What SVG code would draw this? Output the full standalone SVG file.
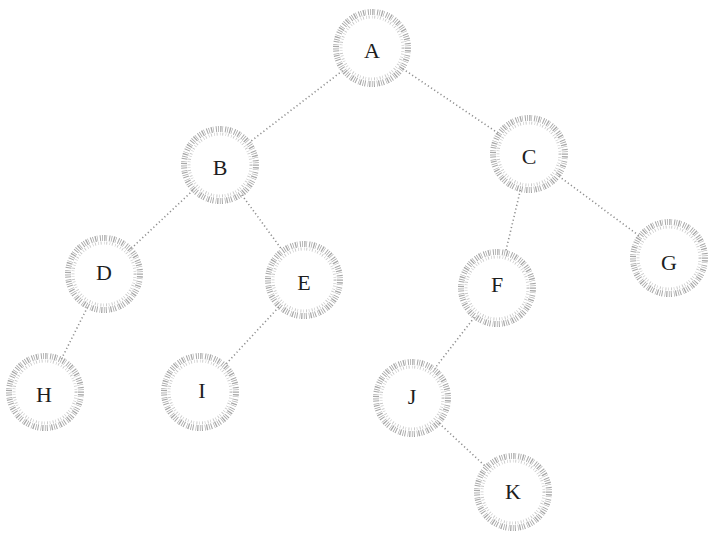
<svg xmlns="http://www.w3.org/2000/svg" width="719" height="548" viewBox="0 0 719 548">
<style>
.ring{fill:none;stroke:#a8a8a8;stroke-width:6;stroke-dasharray:0.8 1.4 1.3 0.9 0.6 2.1 1 1.2}
.ring2{fill:none;stroke:#c8c8c8;stroke-width:3;stroke-dasharray:0.9 2.4 0.6 1.8}
.lbl{font-family:"Liberation Serif","DejaVu Serif",serif;font-size:22px;fill:#1e1e1e;text-anchor:middle;dominant-baseline:central}
.edge{stroke:#8f8f8f;stroke-width:1.6;stroke-dasharray:1.2 2.6;fill:none}
</style>
<rect width="719" height="548" fill="#ffffff"/>
<g id="connectors">
<line class="edge" x1="342.7" y1="70.6" x2="249.3" y2="142.4"/>
<line class="edge" x1="402.7" y1="68.7" x2="498.3" y2="133.3"/>
<line class="edge" x1="193" y1="190.3" x2="131" y2="248.7"/>
<line class="edge" x1="241.8" y1="194.9" x2="282.2" y2="250.1"/>
<line class="edge" x1="520.4" y1="190" x2="505.6" y2="252"/>
<line class="edge" x1="558.7" y1="176" x2="639.3" y2="236"/>
<line class="edge" x1="87.5" y1="307.1" x2="61.5" y2="358.9"/>
<line class="edge" x1="278.8" y1="307.1" x2="225.2" y2="364.9"/>
<line class="edge" x1="474.4" y1="317.3" x2="434.6" y2="368.7"/>
<line class="edge" x1="439.1" y1="423.2" x2="485.9" y2="466.8"/>
</g>
<g id="A"><circle class="ring" cx="372" cy="48" r="36"/><circle class="ring2" cx="372" cy="48" r="31"/><text class="lbl" x="372" y="50">A</text></g>
<g id="B"><circle class="ring" cx="220" cy="165" r="36"/><circle class="ring2" cx="220" cy="165" r="31"/><text class="lbl" x="220" y="167">B</text></g>
<g id="C"><circle class="ring" cx="529" cy="154" r="36"/><circle class="ring2" cx="529" cy="154" r="31"/><text class="lbl" x="529" y="156">C</text></g>
<g id="D"><circle class="ring" cx="104" cy="274" r="36"/><circle class="ring2" cx="104" cy="274" r="31"/><text class="lbl" x="104" y="272">D</text></g>
<g id="E"><circle class="ring" cx="304" cy="280" r="36"/><circle class="ring2" cx="304" cy="280" r="31"/><text class="lbl" x="304" y="282">E</text></g>
<g id="F"><circle class="ring" cx="497" cy="288" r="36"/><circle class="ring2" cx="497" cy="288" r="31"/><text class="lbl" x="497" y="284">F</text></g>
<g id="G"><circle class="ring" cx="669" cy="258" r="36"/><circle class="ring2" cx="669" cy="258" r="31"/><text class="lbl" x="669" y="262">G</text></g>
<g id="H"><circle class="ring" cx="45" cy="392" r="36"/><circle class="ring2" cx="45" cy="392" r="31"/><text class="lbl" x="44" y="394">H</text></g>
<g id="I"><circle class="ring" cx="200" cy="392" r="36"/><circle class="ring2" cx="200" cy="392" r="31"/><text class="lbl" x="202" y="390">I</text></g>
<g id="J"><circle class="ring" cx="412" cy="398" r="36"/><circle class="ring2" cx="412" cy="398" r="31"/><text class="lbl" x="412" y="396">J</text></g>
<g id="K"><circle class="ring" cx="513" cy="492" r="36"/><circle class="ring2" cx="513" cy="492" r="31"/><text class="lbl" x="513" y="491">K</text></g>
</svg>
